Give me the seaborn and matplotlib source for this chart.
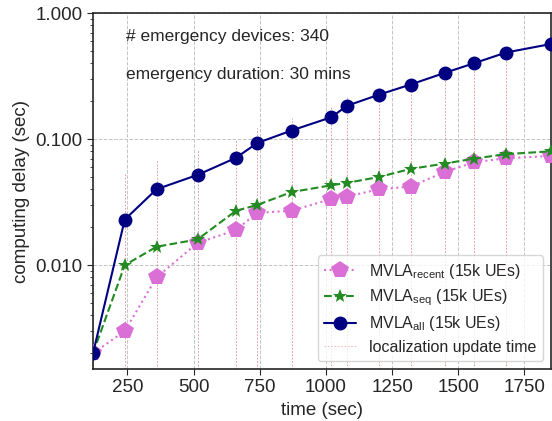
import matplotlib
matplotlib.use("Agg")
import matplotlib.pyplot as plt
import seaborn as sns
import numpy as np
import pandas as pd
from matplotlib.ticker import FixedLocator, FuncFormatter, LogLocator, NullFormatter
from matplotlib.lines import Line2D

# ---- data ----
times = [120, 240, 360, 515, 660, 740, 870, 1020, 1080, 1200, 1320, 1450, 1560, 1680, 1850]
delay_recent = [0.002, 0.0030, 0.0080, 0.0150, 0.0190, 0.0260, 0.0270, 0.0335, 0.0350, 0.0400,
                0.0420, 0.0550, 0.0655, 0.0705, 0.0735]
delay_seq = [0.002, 0.0100, 0.0140, 0.0160, 0.0270, 0.0300, 0.0380, 0.0430, 0.0450, 0.0500,
             0.0580, 0.0640, 0.0700, 0.0760, 0.0800]
delay_all = [0.002, 0.0230, 0.0400, 0.0520, 0.0710, 0.0930, 0.1170, 0.1490, 0.1840, 0.2250,
             0.2710, 0.3360, 0.4000, 0.4860, 0.5680]
update_times = times
update_offset = 0.03
labels = [r"MVLA$_{\mathrm{recent}}$ (15k UEs)", r"MVLA$_{\mathrm{seq}}$ (15k UEs)",
          r"MVLA$_{\mathrm{all}}$ (15k UEs)", "localization update time"]
x_ticks = [250, 500, 750, 1000, 1250, 1500, 1750]
y_ticks = [0.01, 0.1, 1.0]
annot1 = "# emergency devices: 340"
annot2 = "emergency duration: 30 mins"

sns.set_style("ticks")
plt.rcParams["font.family"] = ["Liberation Sans", "DejaVu Sans"]
plt.rcParams["mathtext.fontset"] = "custom"
plt.rcParams["mathtext.rm"] = "Liberation Sans"
plt.rcParams["mathtext.it"] = "Liberation Sans:italic"

fig = plt.figure(figsize=(5.52, 4.21), dpi=100)
ax = fig.add_axes([0.1685, 0.1235, 0.8295, 0.8455])

df = pd.DataFrame({"time": times, "recent": delay_recent, "seq": delay_seq, "all": delay_all})

ymin = 0.0015
ax.vlines(update_times, ymin, np.array(delay_all) + update_offset, colors="#e06060",
          linestyles=(0, (2, 2)), linewidth=0.6, alpha=0.75, zorder=1)

sns.lineplot(data=df, x="time", y="recent", ax=ax, color="orchid", linestyle=":", linewidth=1.5,
             marker="p", markersize=13, markeredgewidth=0, label=labels[0], zorder=3)
sns.lineplot(data=df, x="time", y="seq", ax=ax, color="forestgreen", linestyle="--", linewidth=1.5,
             marker="*", markersize=10, markeredgewidth=0, label=labels[1], zorder=4)
sns.lineplot(data=df, x="time", y="all", ax=ax, color="navy", linestyle="-", linewidth=1.5,
             marker="o", markersize=10, markeredgewidth=0, label=labels[2], zorder=5)

ax.set_yscale("log")
ax.set_xlim(120, 1850)
ax.set_ylim(ymin, 1.0)
ax.xaxis.set_major_locator(FixedLocator(x_ticks))
ax.yaxis.set_major_locator(FixedLocator(y_ticks))
ax.yaxis.set_major_formatter(FuncFormatter(lambda v, p: f"{v:.3f}"))
ax.yaxis.set_minor_locator(LogLocator(base=10, subs=np.arange(2, 10)))
ax.yaxis.set_minor_formatter(NullFormatter())
ax.grid(True, which="major", color="#c4c4c4", linestyle="--", linewidth=0.7, zorder=0)
ax.tick_params(axis="both", which="major", labelsize=13.5, length=4)
ax.tick_params(axis="y", which="minor", length=2.5)
ax.set_xlabel("time (sec)", fontsize=13.5)
ax.set_ylabel("computing delay (sec)", fontsize=13.5)
for s in ax.spines.values():
    s.set_linewidth(1.2)

ax.text(0.073, 0.935, annot1, transform=ax.transAxes, fontsize=12.5, va="center", ha="left")
ax.text(0.073, 0.827, annot2, transform=ax.transAxes, fontsize=12.5, va="center", ha="left")

handles, _ = ax.get_legend_handles_labels()
h_upd = Line2D([], [], color="#e06060", linestyle=(0, (2, 2)), linewidth=0.6, alpha=0.5)
ax.legend(handles[:3] + [h_upd], labels, loc="lower right", fontsize=11.5, frameon=True,
          framealpha=0.8, borderpad=0.4, handlelength=2.0, labelspacing=0.4)

fig.savefig("out.png", dpi=100)
